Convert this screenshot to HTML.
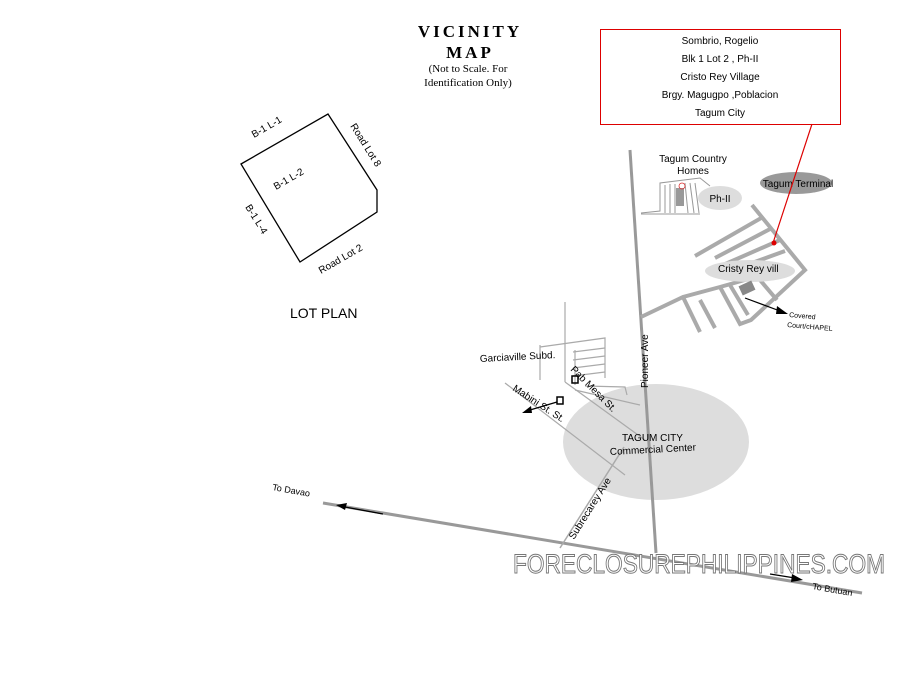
<!DOCTYPE html>
<html><head><meta charset="utf-8"><style>
html,body{margin:0;padding:0;background:#fff;}
svg{display:block;}
.s{font-family:"Liberation Sans",sans-serif;}
.r{font-family:"Liberation Serif",serif;}
</style></head><body>
<svg width="900" height="675" viewBox="0 0 900 675" xmlns="http://www.w3.org/2000/svg">
<rect width="900" height="675" fill="#fff"/>
<text x="470" y="37" text-anchor="middle" class="r" font-size="17" font-weight="bold" letter-spacing="3">VICINITY</text>
<text x="470" y="58" text-anchor="middle" class="r" font-size="17" font-weight="bold" letter-spacing="3">MAP</text>
<text x="468" y="72" text-anchor="middle" class="r" font-size="11">(Not to Scale. For</text>
<text x="468" y="86" text-anchor="middle" class="r" font-size="11">Identification Only)</text>
<rect x="600.5" y="29.5" width="240" height="95" fill="#fff" stroke="#d00" stroke-width="1"/>
<g class="s" font-size="10" text-anchor="middle">
<text x="720" y="44">Sombrio, Rogelio</text>
<text x="720" y="62">Blk 1 Lot 2 , Ph-II</text>
<text x="720" y="80">Cristo Rey Village</text>
<text x="720" y="98">Brgy. Magugpo ,Poblacion</text>
<text x="720" y="116">Tagum City</text>
</g>
<polygon points="241,164 328,114 377,190 377,212 300,262" fill="none" stroke="#000" stroke-width="1.3"/>
<g class="s" font-size="10">
<text transform="translate(254,138) rotate(-30)">B-1 L-1</text>
<text transform="translate(276,190) rotate(-30)">B-1 L-2</text>
<text transform="translate(350,126) rotate(58)">Road Lot 8</text>
<text transform="translate(245,207) rotate(58)">B-1 L-4</text>
<text transform="translate(321,274) rotate(-30)">Road Lot 2</text>
</g>
<text x="290" y="318" class="s" font-size="14">LOT PLAN</text>
<ellipse cx="656" cy="442" rx="93" ry="58" fill="#ddd"/>
<line x1="323" y1="503" x2="862" y2="593" stroke="#999" stroke-width="3"/>
<line x1="383" y1="514" x2="345" y2="507" stroke="#000" stroke-width="1.3"/>
<polygon points="336,505 347,503 345,510" fill="#000"/>
<line x1="770" y1="574" x2="795" y2="578" stroke="#000" stroke-width="1.3"/>
<polygon points="803,580 792,574 791,582" fill="#000"/>
<text transform="translate(272,490) rotate(10)" class="s" font-size="9">To Davao</text>
<text transform="translate(812,589) rotate(10)" class="s" font-size="9">To Butuan</text>
<line x1="630" y1="150" x2="656" y2="553" stroke="#999" stroke-width="3"/>
<text transform="translate(648,388) rotate(-90)" class="s" font-size="10">Pioneer Ave</text>
<line x1="560" y1="548" x2="624" y2="447" stroke="#aaa" stroke-width="1.5"/>
<text transform="translate(574,540) rotate(-58)" class="s" font-size="10">Subrecarey Ave</text>
<g stroke="#aaa" stroke-width="1.2" fill="none">
<line x1="505" y1="383" x2="625" y2="475"/>
<line x1="565" y1="302" x2="565" y2="382"/>
<line x1="540" y1="345" x2="540" y2="380"/>
<line x1="565" y1="382" x2="645" y2="440"/>
<line x1="575" y1="390" x2="640" y2="405"/>
<polyline points="540,347 605,338 605,378"/>
<line x1="573" y1="352" x2="605" y2="348"/><line x1="573" y1="360" x2="605" y2="356"/><line x1="573" y1="368" x2="605" y2="364"/><line x1="573" y1="376" x2="605" y2="372"/><line x1="575" y1="350" x2="575" y2="385"/><polyline points="585,386 625,387 627,395"/>
</g>
<text transform="translate(480,362) rotate(-3)" class="s" font-size="10">Garciaville Subd.</text>
<text transform="translate(512,390) rotate(33)" class="s" font-size="10">Mabini St. St.</text>
<text transform="translate(570,370) rotate(45)" class="s" font-size="10">Pab Mesa St.</text>
<rect x="557" y="397" width="6" height="7" fill="none" stroke="#000" stroke-width="1.5"/>
<rect x="572" y="376" width="6" height="7" fill="none" stroke="#000" stroke-width="1.5"/>
<line x1="557" y1="402" x2="530" y2="410" stroke="#000" stroke-width="1.2"/>
<polygon points="522,413 531,406 532,413" fill="#000"/>
<text x="622" y="441" class="s" font-size="10">TAGUM CITY</text>
<text transform="translate(610,455) rotate(-3)" class="s" font-size="10">Commercial Center</text>
<text x="693" y="162" text-anchor="middle" class="s" font-size="10">Tagum Country</text>
<text x="693" y="174" text-anchor="middle" class="s" font-size="10">Homes</text>
<ellipse cx="720" cy="198" rx="22" ry="12" fill="#ddd"/>
<text x="720" y="202" text-anchor="middle" class="s" font-size="10">Ph-II</text>
<g stroke="#999" stroke-width="1" fill="none">
<polyline points="641,213 660,211 660,183 700,178 710,186"/>
<line x1="641" y1="214" x2="700" y2="214"/>
<line x1="665" y1="185" x2="665" y2="213"/><line x1="670" y1="184" x2="670" y2="213"/><line x1="675" y1="184" x2="675" y2="213"/><line x1="685" y1="183" x2="688" y2="213"/><line x1="690" y1="183" x2="694" y2="213"/><line x1="695" y1="183" x2="699" y2="213"/>
</g>
<rect x="676" y="188" width="8" height="18" fill="#999"/>
<circle cx="682" cy="186" r="3" fill="none" stroke="#d33" stroke-width="0.8"/>
<ellipse cx="796" cy="183" rx="36" ry="11" fill="#999"/>
<text x="798" y="187" text-anchor="middle" class="s" font-size="10">Tagum Terminal</text>
<g stroke="#aaa" stroke-width="4" fill="none">
<polyline points="752,205 805,270 751,320 740,324 720,287"/>
<polyline points="695,256 763,217"/><polyline points="715,258 772,228"/><polyline points="723,265 780,240"/><polyline points="738,268 785,251"/>
<polyline points="641,317 683,297 720,287 780,270"/>
<polyline points="683,297 700,332"/><polyline points="700,300 715,328"/><polyline points="730,285 748,315"/><polyline points="760,280 777,300"/>
</g>
<ellipse cx="750" cy="271" rx="45" ry="11" fill="#ddd"/>
<text x="718" y="272" class="s" font-size="10">Cristy Rey vill</text>
<rect x="740" y="283" width="14" height="10" fill="#888" transform="rotate(-25 747 288)"/>
<line x1="745" y1="298" x2="780" y2="311" stroke="#000" stroke-width="1.2"/>
<polygon points="788,314 777,306 776,314" fill="#000"/>
<text transform="translate(789,317) rotate(5)" class="s" font-size="7">Covered</text>
<text transform="translate(787,327) rotate(5)" class="s" font-size="7">Court/cHAPEL</text>
<line x1="812" y1="124" x2="773" y2="243" stroke="#d00" stroke-width="1.2"/>
<circle cx="774" cy="243" r="2.5" fill="#d00"/>
<text x="699" y="573" text-anchor="middle" class="s" font-size="27" fill="#fff" stroke="#777" stroke-width="1" textLength="372" lengthAdjust="spacingAndGlyphs">FORECLOSUREPHILIPPINES.COM</text>
</svg>
</body></html>
